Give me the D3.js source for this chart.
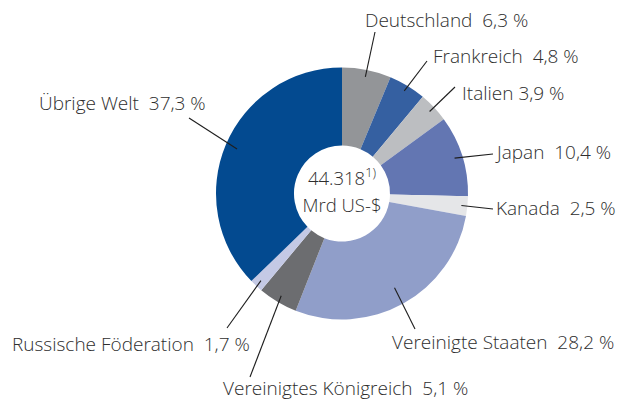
<!DOCTYPE html>
<html><head><meta charset="utf-8">
<script src="https://cdn.jsdelivr.net/npm/d3@7"></script>
<style>
html,body{margin:0;padding:0;background:#fff;}
svg{display:block;}
text{font-family:"Open Sans",sans-serif;font-weight:300;fill:#2e2e2e;white-space:pre;}
</style></head><body>
<svg id="chart" width="618" height="401"></svg>
<script>
// data
const countries = ["Deutschland","Frankreich","Italien","Japan","Kanada","Vereinigte Staaten","Vereinigtes Königreich","Russische Föderation","Übrige Welt"];
const shares = [6.3,4.8,3.9,10.4,2.5,28.2,5.1,1.7,37.3];
const shareLabels = ["6,3 %","4,8 %","3,9 %","10,4 %","2,5 %","28,2 %","5,1 %","1,7 %","37,3 %"];
const totalLabel = "44.318";
const totalNote = "1)";
const unitLabel = "Mrd US-$";

// styles / layout
const colors = ["#939598","#3560a1","#bcbec1","#6376b2","#e5e6e8","#909ec9","#6c6d70","#c4c9e5","#034a90"];
const sep = ["  ","  "," ","  ","  ","  ","  ","  ","  "];
// label text anchor (x, baseline) and leader line outer end, leader inner radius
const labelPos = [[365,27],[433,63],[462,100],[497,159],[496,215],[392,349],[223,395],[12,351],[39,110]];
const lineEnd = [[375,32],[427,61],[455,87],[493,154],[493,209],[415,329],[250,377],[227,328],[189,118]];
const lineR = [119,120,120,118,120,108,119,119,114];
const cx = 342, cy = 193.5, R = 126, r0 = 48;

const svg = d3.select("#chart");
const g = svg.append("g").attr("transform", `translate(${cx},${cy})`);
const pie = d3.pie().sort(null).value(d => d);
const arcs = pie(shares);
const arc = d3.arc().innerRadius(r0).outerRadius(R);

g.selectAll("path.slice").data(arcs).join("path")
  .attr("class","slice")
  .attr("d", arc)
  .attr("fill", (d,i) => colors[i]);

// leader lines
const lineArc = i => d3.arc().innerRadius(lineR[i]).outerRadius(lineR[i]);
g.selectAll("line.leader").data(arcs).join("line")
  .attr("class","leader")
  .attr("x1", (d,i) => lineArc(i).centroid(d)[0])
  .attr("y1", (d,i) => lineArc(i).centroid(d)[1])
  .attr("x2", (d,i) => lineEnd[i][0] - cx)
  .attr("y2", (d,i) => lineEnd[i][1] - cy)
  .attr("stroke", "#1e1e1e").attr("stroke-width", 1.1);

// labels
svg.selectAll("text.lbl").data(countries).join("text")
  .attr("class","lbl")
  .attr("x", (d,i) => labelPos[i][0])
  .attr("y", (d,i) => labelPos[i][1])
  .attr("font-size", 19)
  .text((d,i) => d + sep[i] + shareLabels[i]);

// center
const t1 = svg.append("text").attr("x", cx).attr("y", 185).attr("text-anchor","middle").attr("font-size", 18.5);
t1.append("tspan").text(totalLabel);
t1.append("tspan").attr("font-size", 13).attr("dy", -8).text(totalNote);
svg.append("text").attr("x", cx).attr("y", 212).attr("text-anchor","middle").attr("font-size", 18.5).text(unitLabel);
</script>
</body></html>
